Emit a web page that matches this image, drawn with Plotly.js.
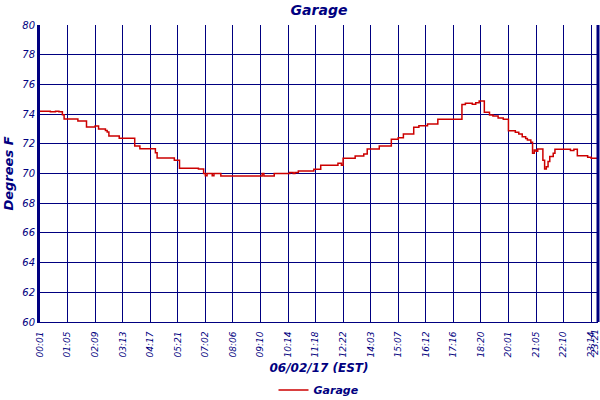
<!DOCTYPE html>
<html>
<head>
<meta charset="utf-8">
<script src="https://cdn.plot.ly/plotly-3.0.1.min.js"></script>
<style>html,body{margin:0;padding:0;background:#fff;}#chart{width:600px;height:400px;}</style>
</head>
<body>
<div id="chart"></div>
<script>
// Sample index (readings since 00:01) where the reading changes, and the reading (°F)
const sampleIndex = [0, 6, 9, 11, 12, 13, 14, 22, 27, 32, 34, 38, 39, 40, 46, 55, 58, 67, 68, 78, 81, 92, 95, 96, 97, 100, 101, 105, 129, 130, 136, 145, 147, 148, 150, 159, 163, 173, 175, 176, 183, 188, 190, 197, 204, 208, 211, 217, 220, 225, 231, 245, 247, 251, 253, 255, 258, 261, 263, 266, 269, 272, 276, 278, 280, 282, 283, 285, 286, 287, 288, 289, 292, 293, 294, 295, 296, 298, 299, 308, 310, 312, 318, 320, 324];
const tempF = [74.2, 74.15, 74.2, 74.15, 74.15, 73.95, 73.67, 73.53, 73.13, 73.2, 73.0, 72.9, 72.8, 72.53, 72.37, 71.85, 71.67, 71.4, 71.04, 70.89, 70.35, 70.3, 70.0, 69.85, 70.0, 69.85, 70.0, 69.83, 70.0, 69.83, 70.0, 70.06, 70.0, 70.06, 70.17, 70.28, 70.55, 70.69, 70.55, 71.02, 71.18, 71.31, 71.65, 71.85, 72.3, 72.41, 72.66, 73.11, 73.22, 73.33, 73.65, 74.64, 74.73, 74.66, 74.77, 74.88, 74.12, 73.94, 73.87, 73.74, 73.65, 72.88, 72.77, 72.66, 72.48, 72.35, 72.26, 72.1, 71.36, 71.58, 71.5, 71.65, 70.9, 70.3, 70.45, 70.8, 71.14, 71.36, 71.63, 71.55, 71.63, 71.2, 71.1, 71.02, 71.02];
const tickIndex = [0, 16, 32, 48, 64, 80, 96, 112, 128, 144, 160, 176, 192, 208, 224, 240, 256, 272, 288, 304, 320, 324];
const tickLabels = ["00:01", "01:05", "02:09", "03:13", "04:17", "05:21", "07:02", "08:06", "09:10", "10:14", "11:18", "12:22", "14:03", "15:07", "16:12", "17:16", "18:20", "20:01", "21:05", "22:10", "23:14", "23:21"];
const yTicks = [60, 62, 64, 66, 68, 70, 72, 74, 76, 78, 80];

const navy = '#000080';
const ff = 'DejaVu Sans, sans-serif';

const trace = {
  x: sampleIndex, y: tempF, type: 'scatter', mode: 'lines', name: 'Garage',
  line: {color: '#cc0000', width: 1.5, shape: 'hv'}
};

const lastI = tickIndex.length - 1;

const layout = {
  width: 600, height: 400,
  margin: {l: 40, r: 2, t: 25, b: 78, pad: 0},
  paper_bgcolor: '#fff', plot_bgcolor: '#fff',
  showlegend: true,
  title: {text: 'Garage', x: 0.5, xref: 'paper', y: 0.975, yref: 'container', yanchor: 'middle',
    font: {family: ff, size: 14, color: navy, weight: 'bold', style: 'italic'}},
  xaxis: {
    range: [0, 324], tickmode: 'array', tickvals: tickIndex.slice(0, lastI), ticktext: tickLabels.slice(0, lastI),
    tickangle: -90, ticks: '', ticklabelstandoff: 5, showgrid: true, gridcolor: navy, gridwidth: 1,
    zeroline: false, showline: true, linecolor: navy, linewidth: 1, automargin: false,
    tickfont: {family: ff, size: 9, color: navy, style: 'italic'},
    title: {text: '06/02/17 (EST)', standoff: 10, font: {family: ff, size: 12, color: navy, weight: 'bold', style: 'italic'}}
  },
  yaxis: {
    range: [60, 80], tickmode: 'array', tickvals: yTicks, ticks: '', automargin: false,
    showgrid: true, gridcolor: navy, gridwidth: 1, zeroline: false,
    showline: true, linecolor: navy, linewidth: 3,
    tickfont: {family: ff, size: 10, color: navy, style: 'italic'},
    title: {text: 'Degrees F', standoff: 6, font: {family: ff, size: 13, color: navy, weight: 'bold', style: 'italic'}}
  },
  annotations: [{
    text: tickLabels[lastI], x: tickIndex[lastI], xref: 'x', y: 0, yref: 'paper',
    yanchor: 'top', xanchor: 'center', yshift: -5, xshift: -3, textangle: -90, showarrow: false,
    font: {family: ff, size: 9, color: navy, style: 'italic'}
  }],
  shapes: [{type: 'line', xref: 'paper', yref: 'paper', x0: 1, x1: 1, y0: 0, y1: 1, line: {color: navy, width: 3}}],
  legend: {orientation: 'h', x: 0.5, xanchor: 'center', yref: 'container', y: 0.025, yanchor: 'middle',
    font: {family: ff, size: 11, color: navy, weight: 'bold', style: 'italic'}, itemwidth: 30}
};

Plotly.newPlot('chart', [trace], layout, {staticPlot: true, displayModeBar: false});
</script>
</body>
</html>
